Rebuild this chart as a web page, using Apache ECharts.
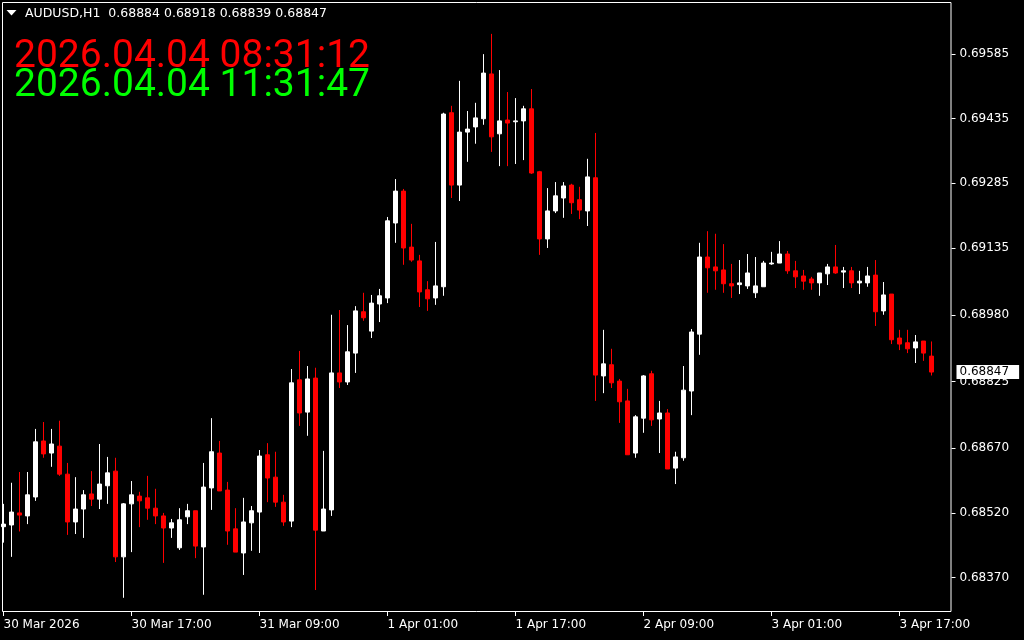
<!DOCTYPE html>
<html><head><meta charset="utf-8">
<script src="https://cdn.jsdelivr.net/npm/echarts@6/dist/echarts.min.js"></script>
<style>html,body{margin:0;padding:0;background:#000;}#c{width:1024px;height:640px;}</style>
</head><body><div id="c"></div>
<script>
const symbolText = 'AUDUSD,H1';
const serverTime = '2026.04.04 08:31:12';
const localTime = '2026.04.04 11:31:47';

const opens = [
0.68488,0.68492,0.68520,0.68513,0.68557,0.68687,0.68659,0.68675,0.68610,0.68499,
0.68529,0.68564,0.68552,0.68583,0.68617,0.68418,0.68541,0.68559,0.68555,0.68531,
0.68513,0.68485,0.68439,0.68511,0.68525,0.68441,0.68578,0.68659,0.68573,0.68483,
0.68427,0.68497,0.68522,0.68655,0.68603,0.68545,0.68501,0.68829,0.68754,0.68833,
0.68478,0.68527,0.68845,0.68824,0.68891,0.68987,0.68942,0.69005,0.69019,0.69193,
0.69267,0.69137,0.69105,0.69038,0.69019,0.69045,0.69449,0.69281,0.69404,0.69416,
0.69435,0.69539,0.69400,0.69432,0.69428,0.69430,0.69458,0.69312,0.69156,0.69221,
0.69251,0.69281,0.69247,0.69221,0.69298,0.68838,0.68864,0.68826,0.68780,0.68659,
0.68740,0.68843,0.68738,0.68752,0.68624,0.68648,0.68803,0.68935,0.69114,0.69091,
0.69084,0.69052,0.69050,0.69047,0.69031,0.69045,0.69098,0.69100,0.69121,0.69082,
0.69070,0.69063,0.69054,0.69075,0.69091,0.69079,0.69082,0.69054,0.69054,0.69072,
0.68989,0.69028,0.68926,0.68915,0.68903,0.68919,0.68884];
const closes = [
0.68494,0.68522,0.68515,0.68562,0.68685,0.68657,0.68680,0.68610,0.68499,0.68529,
0.68562,0.68552,0.68587,0.68613,0.68418,0.68541,0.68562,0.68548,0.68531,0.68513,
0.68485,0.68497,0.68504,0.68525,0.68443,0.68580,0.68662,0.68571,0.68478,0.68429,
0.68499,0.68525,0.68652,0.68601,0.68545,0.68499,0.68822,0.68752,0.68831,0.68480,
0.68529,0.68845,0.68824,0.68894,0.68989,0.68973,0.69007,0.69024,0.69198,0.69267,
0.69135,0.69107,0.69033,0.69017,0.69047,0.69446,0.69281,0.69404,0.69411,0.69437,
0.69541,0.69393,0.69430,0.69425,0.69430,0.69458,0.69309,0.69156,0.69221,0.69256,
0.69279,0.69240,0.69223,0.69300,0.68840,0.68866,0.68822,0.68778,0.68655,0.68743,
0.68838,0.68736,0.68752,0.68622,0.68650,0.68805,0.68940,0.69114,0.69089,0.69082,
0.69052,0.69047,0.69054,0.69077,0.69047,0.69100,0.69100,0.69121,0.69082,0.69068,
0.69058,0.69054,0.69077,0.69091,0.69077,0.69082,0.69054,0.69058,0.69070,0.68987,
0.69026,0.68922,0.68912,0.68901,0.68917,0.68891,0.68847];
const lows = [
0.68451,0.68418,0.68477,0.68494,0.68548,0.68648,0.68627,0.68606,0.68469,0.68471,
0.68462,0.68536,0.68529,0.68541,0.68406,0.68323,0.68429,0.68487,0.68504,0.68494,
0.68404,0.68462,0.68434,0.68494,0.68415,0.68330,0.68527,0.68571,0.68446,0.68429,
0.68376,0.68432,0.68427,0.68545,0.68534,0.68490,0.68487,0.68722,0.68699,0.68341,
0.68478,0.68513,0.68810,0.68817,0.68845,0.68966,0.68926,0.68963,0.69007,0.69147,
0.69096,0.69103,0.68998,0.68989,0.69003,0.69024,0.69251,0.69244,0.69335,0.69377,
0.69421,0.69358,0.69325,0.69325,0.69330,0.69339,0.69307,0.69119,0.69135,0.69216,
0.69205,0.69214,0.69202,0.69186,0.68780,0.68798,0.68810,0.68729,0.68655,0.68648,
0.68706,0.68722,0.68659,0.68622,0.68587,0.68641,0.68747,0.68887,0.69031,0.69038,
0.69031,0.69019,0.69028,0.69040,0.69019,0.69045,0.69096,0.69100,0.69075,0.69042,
0.69038,0.69038,0.69024,0.69049,0.69075,0.69042,0.69042,0.69028,0.69045,0.68954,
0.68980,0.68912,0.68898,0.68891,0.68868,0.68873,0.68839];
const highs = [
0.68541,0.68590,0.68615,0.68615,0.68715,0.68731,0.68715,0.68734,0.68636,0.68603,
0.68573,0.68617,0.68680,0.68650,0.68648,0.68543,0.68594,0.68569,0.68606,0.68576,
0.68520,0.68506,0.68531,0.68541,0.68525,0.68636,0.68740,0.68687,0.68592,0.68531,
0.68555,0.68536,0.68666,0.68682,0.68662,0.68562,0.68854,0.68896,0.68861,0.68857,
0.68664,0.68980,0.68991,0.68956,0.69000,0.69031,0.69026,0.69040,0.69207,0.69295,
0.69272,0.69191,0.69119,0.69058,0.69149,0.69449,0.69465,0.69523,0.69453,0.69472,
0.69585,0.69632,0.69548,0.69497,0.69483,0.69465,0.69504,0.69314,0.69274,0.69288,
0.69288,0.69284,0.69277,0.69342,0.69402,0.68945,0.68901,0.68831,0.68808,0.68747,
0.68840,0.68850,0.68780,0.68761,0.68662,0.68861,0.68947,0.69147,0.69174,0.69168,
0.69144,0.69098,0.69107,0.69121,0.69114,0.69105,0.69126,0.69151,0.69128,0.69105,
0.69084,0.69068,0.69077,0.69098,0.69142,0.69091,0.69091,0.69082,0.69091,0.69107,
0.69056,0.69028,0.68945,0.68945,0.68933,0.68919,0.68918];

const yTickValues = [0.69585,0.69435,0.69285,0.69135,0.68980,0.68825,0.68670,0.68520,0.68370];
const xTickLabels = ['30 Mar 2026','30 Mar 17:00','31 Mar 09:00','1 Apr 01:00','1 Apr 17:00','2 Apr 09:00','3 Apr 01:00','3 Apr 17:00'];
const xTickEvery = 16;
const emptySlotsRight = 2;
const yMin = 0.68290, yMax = 0.69706;

const n = opens.length;
const categories = [];
const t0 = Date.UTC(2026, 2, 30, 1);
for (let i = 0; i < n + emptySlotsRight; i++) {
  const d = new Date(t0 + i * 3600000);
  categories.push(d.toISOString().slice(0, 13));
}
const candleData = opens.map((o, i) => [o, closes[i], lows[i], highs[i]]);
const last = n - 1;
const lastClose = closes[last];
const headerText = symbolText + '  ' + [opens[last], highs[last], lows[last], closes[last]].map(v => v.toFixed(5)).join(' ');

const FONT = 'DejaVu Sans';
const BIG = '39px Roboto, sans-serif';
const chart = echarts.init(document.getElementById('c'), null, {renderer: 'canvas'});
chart.setOption({
  backgroundColor: '#000000',
  animation: false,
  grid: {left: -0.5, top: 2, width: 952, height: 610, containLabel: false, outerBoundsMode: 'none'},
  xAxis: {
    type: 'category', data: categories, boundaryGap: true,
    axisLine: {show: false},
    axisTick: {show: true, alignWithLabel: true, interval: xTickEvery - 1, length: 4, lineStyle: {color: '#ffffff'}},
    axisLabel: {
      interval: xTickEvery - 1, align: 'left', color: '#ffffff', fontFamily: FONT, fontSize: 12, margin: 7,
      formatter: (v, idx) => (idx % xTickEvery === 0 && xTickLabels[idx / xTickEvery]) ? xTickLabels[idx / xTickEvery] : ''
    },
    splitLine: {show: false}
  },
  yAxis: [{
    type: 'value', position: 'right', min: yMin, max: yMax, scale: true,
    axisLine: {show: false},
    axisTick: {show: true, length: 4, customValues: yTickValues, lineStyle: {color: '#ffffff'}},
    axisLabel: {customValues: yTickValues, formatter: v => v.toFixed(5), color: '#ffffff', fontFamily: FONT, fontSize: 12, margin: 8},
    splitLine: {show: false}
  }, {
    type: 'value', position: 'right', min: yMin, max: yMax, scale: true,
    axisLine: {show: false}, axisTick: {show: false}, splitLine: {show: false},
    axisLabel: {customValues: [lastClose], formatter: v => v.toFixed(5), color: '#000000', backgroundColor: '#ffffff',
      padding: [1, 10, 1, 3], fontFamily: FONT, fontSize: 12, margin: 5}
  }],
  series: [{
    type: 'candlestick', data: candleData, barWidth: 4,
    itemStyle: {color: '#ffffff', color0: '#ff0000', borderColor: '#ffffff', borderColor0: '#ff0000', borderWidth: 1}
  }],
  graphic: [
    {type: 'rect', silent: true, z: 10, shape: {x: 2.5, y: 2.5, width: 948.5, height: 609}, style: {fill: 'none', stroke: '#ffffff', lineWidth: 1}},
    {type: 'polygon', silent: true, z: 11, shape: {points: [[6.5, 10], [16.5, 10], [11.5, 15.5]]}, style: {fill: '#ffffff'}},
    {type: 'text', silent: true, z: 11, x: 25, y: 14, style: {text: headerText, fill: '#ffffff', font: '12.5px "DejaVu Sans"', verticalAlign: 'middle', align: 'left'}},
    {type: 'text', silent: true, z: 11, x: 14, y: 57, style: {text: serverTime, fill: '#ff0000', font: BIG, verticalAlign: 'middle', align: 'left'}},
    {type: 'text', silent: true, z: 11, x: 14, y: 86, style: {text: localTime, fill: '#00ff00', font: BIG, verticalAlign: 'middle', align: 'left'}}
  ]
});
</script></body></html>
